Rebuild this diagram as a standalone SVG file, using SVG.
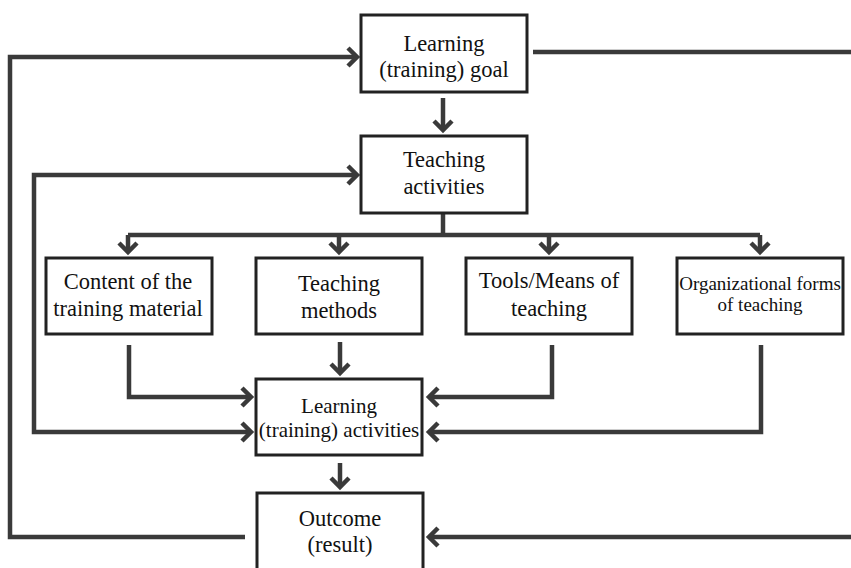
<svg xmlns="http://www.w3.org/2000/svg" width="851" height="568" viewBox="0 0 851 568">
<defs>
<style>
.box{fill:#fff;stroke:#222;stroke-width:3}
.t{font-size:22.5px;fill:#111;text-anchor:middle}
.m{font-size:21px}
.s{font-size:19px}
.ln{fill:none;stroke:#3a3a3a;stroke-width:4.5;stroke-linejoin:miter}
</style>
<marker id="ah" markerUnits="userSpaceOnUse" viewBox="-14 -14 20 28" markerWidth="20" markerHeight="28" refX="0" refY="0" orient="auto-start-reverse" overflow="visible">
<path d="M-9,-9 L0,0 L-9,9" fill="none" stroke="#3a3a3a" stroke-width="4.5"/>
</marker>
</defs>
<rect width="851" height="568" fill="#fff"/>
<g id="connectors">
<path class="ln" d="M443,98 V130" marker-end="url(#ah)"/>
<path class="ln" d="M443,213 V235"/>
<path class="ln" d="M128,235 H760"/>
<path class="ln" d="M128,235 V252" marker-end="url(#ah)"/>
<path class="ln" d="M339,235 V252" marker-end="url(#ah)"/>
<path class="ln" d="M549,235 V252" marker-end="url(#ah)"/>
<path class="ln" d="M760,235 V252" marker-end="url(#ah)"/>
<path class="ln" d="M340,342 V373" marker-end="url(#ah)"/>
<path class="ln" d="M340,463 V487" marker-end="url(#ah)"/>
<path class="ln" d="M129,345 V397 H251" marker-end="url(#ah)"/>
<path class="ln" d="M552,345 V397 H429" marker-end="url(#ah)"/>
<path class="ln" d="M761,345 V432 H429" marker-end="url(#ah)"/>
<path class="ln" d="M357,175 H34 V432 H251" marker-start="url(#ah)" marker-end="url(#ah)"/>
<path class="ln" d="M245,537 H10 V57 H357" marker-end="url(#ah)"/>
<path class="ln" d="M533,52 H851"/>
<path class="ln" d="M851,537 H429" marker-end="url(#ah)"/>
</g>
<g font-family="'Liberation Serif', 'Times New Roman', 'DejaVu Serif', serif">
<g id="goal"><rect class="box" x="361" y="15" width="166" height="77"/><text class="t" x="444" y="51">Learning</text><text class="t" x="444" y="77">(training) goal</text></g>
<g id="teaching-activities"><rect class="box" x="361" y="136" width="166" height="77"/><text class="t" x="444" y="167">Teaching</text><text class="t" x="444" y="194">activities</text></g>
<g id="content"><rect class="box" x="46" y="258" width="166" height="76"/><text class="t" x="128" y="289">Content of the</text><text class="t" x="128" y="316">training material</text></g>
<g id="methods"><rect class="box" x="256" y="258" width="166" height="76"/><text class="t" x="339" y="291">Teaching</text><text class="t" x="339" y="318">methods</text></g>
<g id="tools"><rect class="box" x="466" y="258" width="166" height="76"/><text class="t" x="549" y="288">Tools/Means of</text><text class="t" x="549" y="316">teaching</text></g>
<g id="forms"><rect class="box" x="677" y="258" width="166" height="76"/><text class="t s" x="760" y="290">Organizational forms</text><text class="t s" x="760" y="311">of teaching</text></g>
<g id="learning-activities"><rect class="box" x="256" y="379" width="166" height="76"/><text class="t m" x="339" y="413">Learning</text><text class="t m" x="339" y="437">(training) activities</text></g>
<g id="outcome"><rect class="box" x="257" y="493" width="166" height="85"/><text class="t" x="340" y="526">Outcome</text><text class="t" x="340" y="552">(result)</text></g>
</g>
</svg>
